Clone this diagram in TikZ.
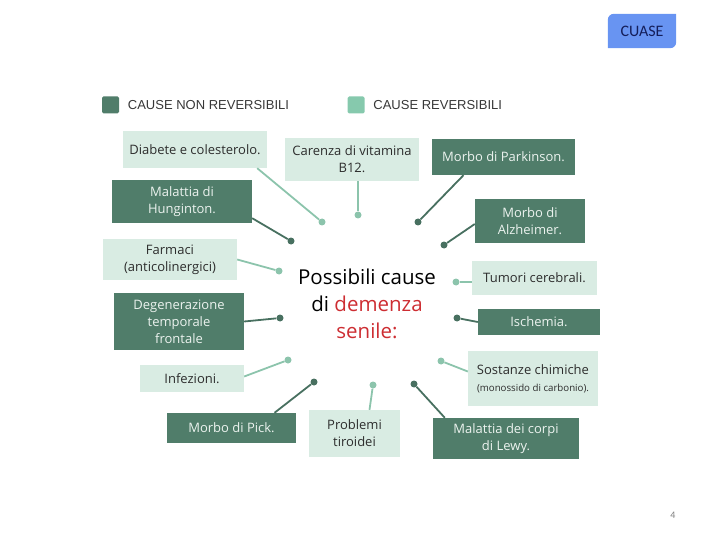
\documentclass[tikz,border=0pt]{standalone}
\usepackage{fontspec}
\setmainfont{Open Sans}
\newfontfamily\legendfont{Liberation Sans}
\newfontfamily\slidefont{Carlito}
\usetikzlibrary{positioning}

\definecolor{darkcause}{RGB}{80,125,106}
\definecolor{lightcause}{RGB}{217,236,227}
\definecolor{lightlegend}{RGB}{134,201,173}
\definecolor{darklinkcol}{RGB}{72,112,96}
\definecolor{lightlinkcol}{RGB}{140,196,172}
\definecolor{darktext}{RGB}{236,243,239}
\definecolor{boxtext}{RGB}{45,45,45}
\definecolor{legendtext}{RGB}{55,55,55}
\definecolor{demred}{RGB}{205,45,50}
\definecolor{cuaseblue}{RGB}{104,148,242}
\definecolor{cuasetext}{RGB}{20,30,90}

\begin{document}
\begin{tikzpicture}[x=1pt, y=-1pt,
	darkbox/.style={fill=darkcause, text=darktext, inner sep=0pt, align=center, font=\fontsize{13}{17}\selectfont},
	lightbox/.style={fill=lightcause, text=boxtext, inner sep=0pt, align=center, font=\fontsize{13}{17}\selectfont},
	darkdot/.style={circle, fill=darklinkcol, inner sep=0pt, minimum size=7pt},
	lightdot/.style={circle, fill=lightlinkcol, inner sep=0pt, minimum size=7pt},
	darkwire/.style={draw=darklinkcol, line width=1.8pt},
	lightwire/.style={draw=lightlinkcol, line width=1.8pt},
	keytext/.style={inner sep=0pt, text=legendtext, font=\legendfont\fontsize{13}{15}\selectfont}]
	\useasboundingbox (0,0) rectangle (720,540);
	
	% slide tag and page number
	\node[inner sep=0pt, minimum width=68pt, minimum height=34pt, text=cuasetext, font=\slidefont\fontsize{16}{18}\selectfont] (cuase) at (642,31) {};
	\fill[cuaseblue] (cuase.south west) -- ([yshift=-6pt]cuase.north west) arc[start angle=180, end angle=90, radius=6pt] -- (cuase.north east) -- ([yshift=6pt]cuase.south east) arc[start angle=0, end angle=-90, radius=6pt] -- cycle;
	\node[text=cuasetext, font=\slidefont\fontsize{16}{18}\selectfont] (cuasetxt) at (cuase) {CUASE};
	\node[text=gray, font=\slidefont\fontsize{10}{12}\selectfont] (pagenum) at (673,515) {4};
	
	% legend
	\node[fill=darkcause, minimum size=17pt, inner sep=0pt, rounded corners=1.5pt] (keydark) at (110.5,105) {};
	\node[keytext, right=8.5pt of keydark] (keydarklbl) {CAUSE NON REVERSIBILI};
	\node[fill=lightlegend, minimum size=17pt, inner sep=0pt, rounded corners=1.5pt] (keylight) at (356,105) {};
	\node[keytext, right=8.5pt of keylight] (keylightlbl) {CAUSE REVERSIBILI};
	
	% centre
	\node[align=center, inner sep=0pt, font=\fontsize{20.5}{27}\selectfont] (title) at (367,304) {Possibili cause\\di \textcolor{demred}{demenza}\\\textcolor{demred}{senile:}};
	
	% causes
	\node[lightbox, minimum width=144pt, minimum height=37pt] (diab) at (195,149.5) {Diabete e colesterolo.};
	\node[lightbox, minimum width=134pt, minimum height=43pt] (car) at (352,159.5) {Carenza di vitamina\\B12.};
	\node[darkbox, minimum width=143pt, minimum height=36pt] (park) at (503.5,157) {Morbo di Parkinson.};
	\node[darkbox, minimum width=140pt, minimum height=43pt] (hung) at (182,201.5) {Malattia di\\Hunginton.};
	\node[darkbox, minimum width=110pt, minimum height=44pt] (alz) at (530,221) {Morbo di\\Alzheimer.};
	\node[lightbox, minimum width=134pt, minimum height=41pt] (farm) at (170,259.5) {Farmaci\\(anticolinergici)};
	\node[lightbox, minimum width=125pt, minimum height=34pt] (tum) at (534.5,278) {Tumori cerebrali.};
	\node[darkbox, minimum width=130pt, minimum height=57pt] (deg) at (179,321.5) {Degenerazione\\temporale\\frontale};
	\node[darkbox, minimum width=122pt, minimum height=26pt] (isc) at (539,322) {Ischemia.};
	\node[lightbox, minimum width=104pt, minimum height=27pt] (inf) at (192,378.5) {Infezioni.};
	\node[lightbox, minimum width=130pt, minimum height=55pt] (sost) at (533,378.5) {Sostanze chimiche\\{\fontsize{9.7}{12}\selectfont (monossido di carbonio).}};
	\node[darkbox, minimum width=129pt, minimum height=30pt] (pick) at (231.5,428) {Morbo di Pick.};
	\node[lightbox, minimum width=91pt, minimum height=47pt] (prob) at (354.5,433.5) {Problemi\\tiroidei};
	\node[darkbox, minimum width=146pt, minimum height=41pt] (lewy) at (506,438.5) {Malattia dei corpi\\di Lewy.};
	
	% dots
	\node[lightdot] (ddiab) at (322,222) {};
	\node[lightdot] (dcar) at (358,215) {};
	\node[darkdot] (dpark) at (418,222) {};
	\node[darkdot] (dhung) at (291,241) {};
	\node[darkdot] (dalz) at (444,245) {};
	\node[lightdot] (dfarm) at (279,271) {};
	\node[lightdot] (dtum) at (456,282) {};
	\node[darkdot] (ddeg) at (280,318) {};
	\node[darkdot] (disc) at (457,318) {};
	\node[lightdot] (dinf) at (288,360) {};
	\node[lightdot] (dsost) at (441,361) {};
	\node[darkdot] (dpick) at (314,382) {};
	\node[lightdot] (dprob) at (373,385) {};
	\node[darkdot] (dlewy) at (414,384) {};
	
	\draw[lightwire] ([xshift=-10pt]diab.south east) -- (ddiab);
	\draw[lightwire] ([xshift=6pt]car.south) -- (dcar);
	\draw[darkwire] ([xshift=-40pt]park.south) -- (dpark);
	\draw[darkwire] ([yshift=5pt]hung.south east) -- (dhung);
	\draw[darkwire] ([yshift=-3pt]alz.west) -- (dalz);
	\draw[lightwire] (farm.east) -- (dfarm);
	\draw[lightwire] ([yshift=-4pt]tum.west) -- (dtum);
	\draw[darkwire] (deg.east) -- (ddeg);
	\draw[darkwire] (isc.west) -- (disc);
	\draw[lightwire] ([yshift=2pt]inf.east) -- (dinf);
	\draw[lightwire] ([yshift=7pt]sost.west) -- (dsost);
	\draw[darkwire] ([xshift=43pt]pick.north) -- (dpick);
	\draw[lightwire] ([xshift=15pt]prob.north) -- (dprob);
	\draw[darkwire] ([xshift=12pt]lewy.north west) -- (dlewy);
	
\end{tikzpicture}
\end{document}
